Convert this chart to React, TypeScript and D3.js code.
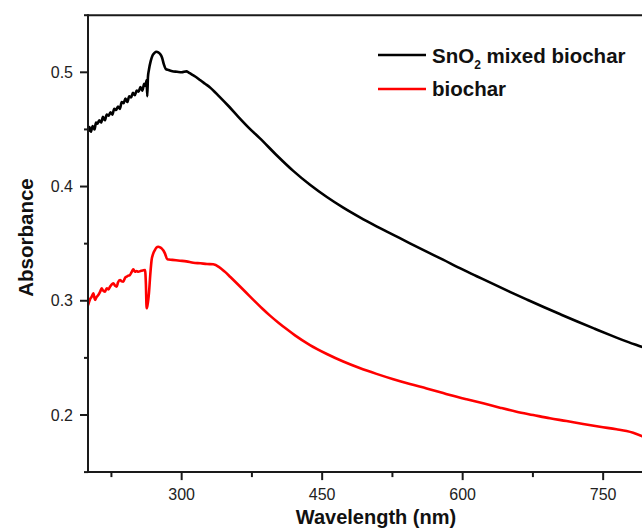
import React from "react";
import * as d3 from "d3";

const blackWl = [200,201.5,203,205,207,208.5,210,212,214,216,218,220,222,224,226,228,230,232,234,236,238,240,242,244,246,248,250,252,254,256,258,260,261.5,262.5,263.3,264,265,267,269,271,273,275,277,279,281,283,286,290,295,300,305,308,312,316,320,325,330,340,350,360,372,383.6,401.4,419.1,437,455,472.5,490.3,508,526,543.7,561.5,579,597,615,633,651,669,687,705,723,741,759,777,791,800];
const blackAbs = [0.448,0.452,0.448,0.453,0.450,0.456,0.455,0.458,0.456,0.461,0.458,0.463,0.462,0.465,0.463,0.468,0.467,0.470,0.468,0.474,0.473,0.477,0.474,0.479,0.478,0.482,0.480,0.484,0.483,0.487,0.484,0.490,0.488,0.493,0.479,0.496,0.502,0.510,0.515,0.517,0.518,0.5175,0.516,0.513,0.507,0.503,0.502,0.501,0.5005,0.500,0.5008,0.4995,0.4975,0.4955,0.493,0.490,0.487,0.479,0.4705,0.4615,0.4512,0.4422,0.4274,0.4137,0.4015,0.3908,0.3815,0.3730,0.3652,0.3577,0.3503,0.3430,0.3360,0.3285,0.3215,0.3145,0.3076,0.3009,0.2943,0.2879,0.2816,0.2755,0.2695,0.2638,0.2597,0.2570];

const redWl = [200,202,204,205.7,207.5,209,211,213,214.6,216,218,220,222,223.5,225,227,229,230.6,232,234.2,236,237.7,239.5,241.3,243,244.8,246.5,248.4,250.2,252,253.7,256,258.5,260.9,261.8,262.6,263.5,265.1,266.5,267.9,269.5,271.4,273,275,277,278.6,280.5,282.1,284.6,290,298.2,305,312.4,320,327,333.7,340,346,352,358,365,372,379,386,394,403,412,421,437,455,472.5,490,508,526,543.7,561.5,579.2,586.4,604.2,621.9,639.8,657.5,675.3,693.1,710.9,728.6,746.5,764.2,775,782,791.2,800];
const redAbs = [0.296,0.301,0.3036,0.3065,0.3007,0.303,0.305,0.308,0.3109,0.309,0.3079,0.311,0.310,0.3123,0.314,0.3153,0.313,0.3123,0.316,0.3182,0.317,0.3167,0.320,0.3211,0.322,0.3226,0.325,0.3275,0.3254,0.326,0.3254,0.326,0.3265,0.3269,0.315,0.2934,0.296,0.3068,0.323,0.3357,0.341,0.3444,0.3465,0.3473,0.3468,0.3459,0.344,0.3415,0.3363,0.3358,0.3351,0.3345,0.3333,0.3328,0.3322,0.3319,0.3295,0.3255,0.3208,0.316,0.3103,0.3045,0.2988,0.2932,0.2872,0.281,0.2752,0.2697,0.2612,0.2534,0.2468,0.2411,0.236,0.2313,0.2271,0.2232,0.2192,0.2175,0.2137,0.2102,0.2064,0.2029,0.2,0.1971,0.1947,0.1921,0.1897,0.1875,0.186,0.1845,0.1816,0.178];

const xMajor = [300, 450, 600, 750];
const xMinor = [225, 375, 525, 675];
const yMajor = [0.2, 0.3, 0.4, 0.5];
const yMinor = [0.15, 0.25, 0.35, 0.45, 0.55];

const seriesNames = ["SnO2 mixed biochar", "biochar"];
const seriesColors = ["#000000", "#ff0000"];

const FONT = "'Liberation Sans', Arial, sans-serif";
const AX = "#1a1a1a";

export default function App() {
  const W = 642, H = 530;
  const x = d3.scaleLinear().domain([200, 800]).range([88, 650]);
  const y = d3.scaleLinear().domain([0.15, 0.55]).range([472.1, 15.2]);
  const line = d3.line<[number, number]>().x(d => x(d[0])).y(d => y(d[1])).curve(d3.curveMonotoneX);
  const black = blackWl.map((w, i) => [w, blackAbs[i]] as [number, number]);
  const red = redWl.map((w, i) => [w, redAbs[i]] as [number, number]);
  const x0 = x(200), yB = y(0.15), yT = y(0.55);

  return (
    <svg width={W} height={H} style={{ position: "absolute", left: 0, top: 0, background: "#fff" }} fontFamily={FONT}>
      <defs>
        <clipPath id="plot">
          <rect x={x0} y={yT - 2} width={W - x0} height={yB - yT + 4} />
        </clipPath>
      </defs>
      <g clipPath="url(#plot)" fill="none" strokeWidth={2.6} strokeLinejoin="round">
        <path d={line(red) || ""} stroke={seriesColors[1]} />
        <path d={line(black) || ""} stroke={seriesColors[0]} />
      </g>
      <line x1={x0} x2={W} y1={yT} y2={yT} stroke={AX} strokeWidth={2} />
      <line x1={x0} x2={W} y1={yB} y2={yB} stroke={AX} strokeWidth={2} />
      <line x1={x0} x2={x0} y1={yT - 1} y2={yB + 1} stroke={AX} strokeWidth={2} />
      {yMajor.map(v => (
        <g key={"ym" + v}>
          <line x1={x0 - 8} x2={x0} y1={y(v)} y2={y(v)} stroke={AX} strokeWidth={2} />
          <text x={x0 - 15} y={y(v)} dy="0.35em" textAnchor="end" fontSize={16} fill="#222">{v.toFixed(1)}</text>
        </g>
      ))}
      {yMinor.map(v => (
        <line key={"yn" + v} x1={x0 - 4} x2={x0} y1={y(v)} y2={y(v)} stroke={AX} strokeWidth={2} />
      ))}
      {xMajor.map(v => (
        <g key={"xm" + v}>
          <line x1={x(v)} x2={x(v)} y1={yB} y2={yB + 8} stroke={AX} strokeWidth={2} />
          <text x={x(v)} y={500} textAnchor="middle" fontSize={16} fill="#222">{v}</text>
        </g>
      ))}
      {xMinor.map(v => (
        <line key={"xn" + v} x1={x(v)} x2={x(v)} y1={yB} y2={yB + 5} stroke={AX} strokeWidth={2} />
      ))}
      <text x={376} y={524} textAnchor="middle" fontSize={20} fontWeight="bold" fill="#111">Wavelength (nm)</text>
      <text transform="translate(33,237.5) rotate(-90)" textAnchor="middle" fontSize={20.5} fontWeight="bold" fill="#111">Absorbance</text>
      <line x1={378} x2={426} y1={55} y2={55} stroke={seriesColors[0]} strokeWidth={2.6} />
      <text x={432} y={63.3} fontSize={20.5} fontWeight="bold" fill="#111">
        SnO<tspan fontSize={12} dy={6}>2</tspan><tspan dy={-6}> mixed biochar</tspan>
      </text>
      <line x1={378} x2={426} y1={89} y2={89} stroke={seriesColors[1]} strokeWidth={2.6} />
      <text x={432} y={96} fontSize={20.5} fontWeight="bold" fill="#111">{seriesNames[1]}</text>
    </svg>
  );
}
